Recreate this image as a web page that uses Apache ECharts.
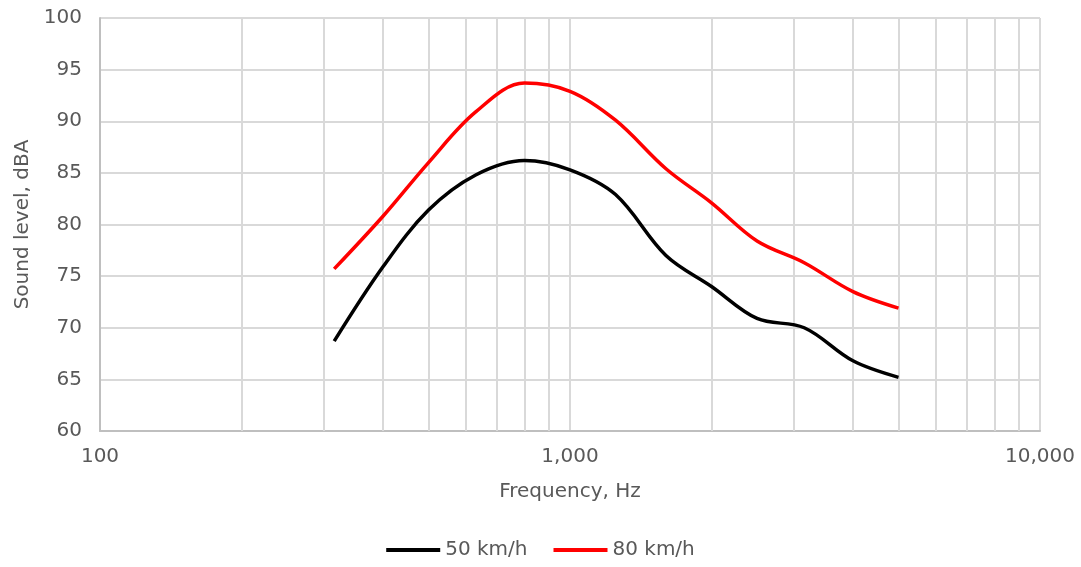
<!DOCTYPE html>
<html>
<head>
<meta charset="utf-8">
<script src="https://cdn.jsdelivr.net/npm/echarts@6/dist/echarts.min.js"></script>
<style>
html,body{margin:0;padding:0;background:#fff;}
#chart{width:1081px;height:567px;}
</style>
</head>
<body>
<div id="chart"></div>
<script>
var frequencies = [315, 400, 500, 630, 800, 1000, 1250, 1600, 2000, 2500, 3150, 4000, 5000];
var level50 = [68.7, 75.9, 81.4, 84.8, 86.2, 85.3, 82.9, 77.0, 74.0, 70.9, 70.0, 66.8, 65.2];
var level80 = [75.7, 80.8, 86.0, 90.9, 93.7, 92.9, 90.1, 85.4, 82.1, 78.4, 76.3, 73.5, 71.9];
var seriesNames = ['50 km/h', '80 km/h'];
var minorGridValues = [200, 300, 400, 500, 600, 700, 800, 900, 2000, 3000, 4000, 5000, 6000, 7000, 8000, 9000];

function pairs(xs, ys) { return xs.map(function (x, i) { return [x, ys[i]]; }); }

var FONT = 'DejaVu Sans';
var TXT = '#595959';
var GRID = '#d9d9d9';

var chart = echarts.init(document.getElementById('chart'), null, {renderer: 'canvas'});
chart.setOption({
  animation: false,
  backgroundColor: '#ffffff',
  grid: {left: 100, right: 41, top: 18, bottom: 136, containLabel: false},
  legend: {
    bottom: 2, left: 'center',
    icon: 'rect', itemWidth: 54, itemHeight: 4, itemGap: 26,
    textStyle: {fontFamily: FONT, fontSize: 20, color: TXT},
    data: seriesNames
  },
  xAxis: {
    type: 'log', logBase: 10, min: 100, max: 10000,
    name: 'Frequency, Hz', nameLocation: 'middle', nameGap: 51,
    nameTextStyle: {fontFamily: FONT, fontSize: 20, color: TXT},
    axisLine: {show: true, lineStyle: {color: '#bfbfbf', width: 2}},
    axisTick: {show: false},
    axisLabel: {
      fontFamily: FONT, fontSize: 20, color: TXT, margin: 16,
      formatter: function (v) { return Math.round(v).toLocaleString('en-US'); }
    },
    splitLine: {show: true, lineStyle: {color: GRID, width: 2}}
  },
  yAxis: {
    type: 'value', min: 60, max: 100, interval: 5,
    name: 'Sound level, dBA', nameLocation: 'middle', nameGap: 66, nameRotate: 90,
    nameTextStyle: {fontFamily: FONT, fontSize: 20, color: TXT},
    axisLine: {show: true, lineStyle: {color: '#bfbfbf', width: 2}},
    axisTick: {show: false},
    axisLabel: {fontFamily: FONT, fontSize: 20, color: TXT, margin: 18},
    splitLine: {show: true, lineStyle: {color: GRID, width: 2}}
  },
  series: [
    {
      name: seriesNames[0], type: 'line', smooth: 0.35, showSymbol: false, symbol: 'none',
      data: pairs(frequencies, level50),
      lineStyle: {color: '#000000', width: 3.5},
      itemStyle: {color: '#000000'},
      z: 3,
      markLine: {
        silent: true, symbol: ['none', 'none'], label: {show: false},
        lineStyle: {color: GRID, width: 2, type: 'solid'},
        emphasis: {disabled: true},
        data: minorGridValues.map(function (v) { return {xAxis: v}; }),
        z: 1
      }
    },
    {
      name: seriesNames[1], type: 'line', smooth: 0.35, showSymbol: false, symbol: 'none',
      data: pairs(frequencies, level80),
      lineStyle: {color: '#ff0000', width: 3.5},
      itemStyle: {color: '#ff0000'},
      z: 3
    }
  ]
});
</script>
</body>
</html>
